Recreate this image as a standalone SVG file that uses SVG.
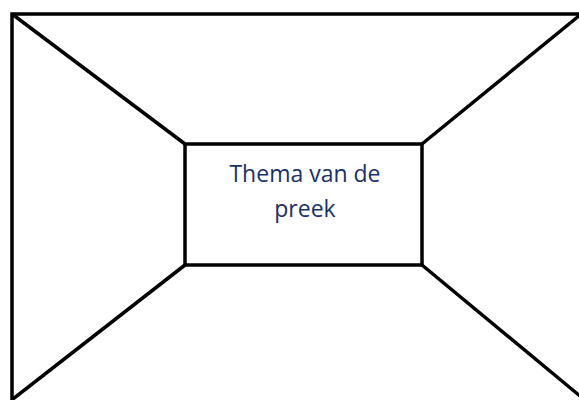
<svg xmlns="http://www.w3.org/2000/svg" width="579" height="400" viewBox="0 0 579 400">
<style>
.ln{stroke:#000;stroke-width:3.5;fill:none;stroke-linejoin:miter}
.t{font-family:"Open Sans","Noto Sans",sans-serif;font-size:23px;fill:#1A3268;text-anchor:middle}
</style>
<rect width="579" height="400" fill="#fff"/>
<g id="outer">
<rect class="ln" x="12" y="14" width="580" height="400"/>
</g>
<g id="connectors">
<line class="ln" x1="12" y1="14" x2="185" y2="144"/>
<line class="ln" x1="422" y1="144" x2="580" y2="15"/>
<line class="ln" x1="185" y1="265" x2="13" y2="399"/>
<line class="ln" x1="422" y1="265" x2="580" y2="396"/>
</g>
<g id="center">
<rect class="ln" x="185" y="144" width="237" height="121"/>
<text class="t" x="305" y="182">Thema van de</text>
<text class="t" x="305" y="217">preek</text>
</g>
</svg>
